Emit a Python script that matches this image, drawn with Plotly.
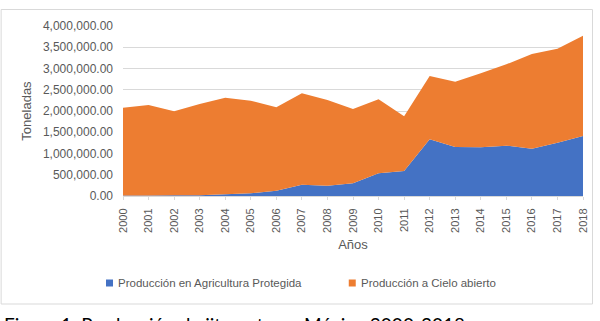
import plotly.graph_objects as go

years = list(range(2000, 2019))
protegida = [10000, 12000, 15000, 20000, 40000, 63000, 125000, 266000, 243000, 298000,
             533000, 588000, 1333000, 1153000, 1145000, 1184000, 1114000, 1255000, 1412000]
total = [2078000, 2141000, 1993000, 2165000, 2313000, 2243000, 2086000, 2416000, 2259000, 2047000,
         2275000, 1875000, 2824000, 2690000, 2886000, 3098000, 3341000, 3467000, 3772000]
cielo_abierto = [t - p for t, p in zip(total, protegida)]

series_names = ["Producción en Agricultura Protegida", "Producción a Cielo abierto"]
y_title = "Toneladas"
x_title = "Años"
caption = "Figura 1. Producción de jitomate en México 2000-2018"

BLUE = "#4472C4"
ORANGE = "#ED7D31"
COLORS = [BLUE, ORANGE]
TXT = "#595959"
FONT = "Liberation Sans"

fig = go.Figure()
fig.add_trace(go.Scatter(x=years, y=protegida, name=series_names[0], stackgroup="one",
                         mode="none", fillcolor=BLUE, showlegend=False))
fig.add_trace(go.Scatter(x=years, y=cielo_abierto, name=series_names[1], stackgroup="one",
                         mode="none", fillcolor=ORANGE, showlegend=False))

L, R, T, B = 123, 16.5, 26, 125
W, H = 600, 321
pw = W - L - R
ph = H - T - B

def px(x):
    return (x - L) / pw

def py(y):
    return (H - B - y) / ph

# chart border
fig.add_shape(type="rect", xref="paper", yref="paper",
              x0=px(1), x1=px(593), y0=py(304), y1=py(9.5),
              line=dict(color="#d9d9d9", width=1), layer="below")

# legend (drawn manually to match small square keys)
legend_x = [106, 349]
legend_y = 283
for name, color, lx in zip(series_names, COLORS, legend_x):
    fig.add_shape(type="rect", xref="paper", yref="paper",
                  x0=px(lx), x1=px(lx + 7), y0=py(legend_y + 3.5), y1=py(legend_y - 3.5),
                  fillcolor=color, line=dict(width=0))
    fig.add_annotation(text=name, xref="paper", yref="paper", x=px(lx + 10), y=py(legend_y),
                       xanchor="left", yanchor="middle", showarrow=False,
                       font=dict(family=FONT, size=11.5, color=TXT))

fig.add_annotation(text=caption, xref="paper", yref="paper", x=px(2), y=py(311),
                   xanchor="left", yanchor="top", showarrow=False,
                   font=dict(family="Lato", size=19, color="#000000"))

fig.update_layout(
    width=W, height=H,
    margin=dict(l=L, r=R, t=T, b=B),
    paper_bgcolor="white", plot_bgcolor="white",
    font=dict(family=FONT, color=TXT, size=11),
    showlegend=False,
    xaxis=dict(range=[2000, 2018], tickmode="array", tickvals=years,
               ticktext=[str(y) for y in years], tickangle=-90,
               showgrid=False, showline=True, linecolor="#d9d9d9",
               ticks="outside", ticklen=3, tickcolor="#d9d9d9",
               tickfont=dict(size=11, color=TXT), ticklabelstandoff=4,
               title=dict(text=x_title, font=dict(size=13, color=TXT), standoff=8)),
    yaxis=dict(range=[0, 4000000], dtick=500000, tickformat=",.2f",
               showgrid=True, gridcolor="#d9d9d9", gridwidth=1,
               zeroline=False, showline=False,
               tickfont=dict(size=12, color=TXT), ticklabelstandoff=9,
               title=dict(text=y_title, font=dict(size=13, color=TXT), standoff=8)),
)

fig.write_html("out.html")
